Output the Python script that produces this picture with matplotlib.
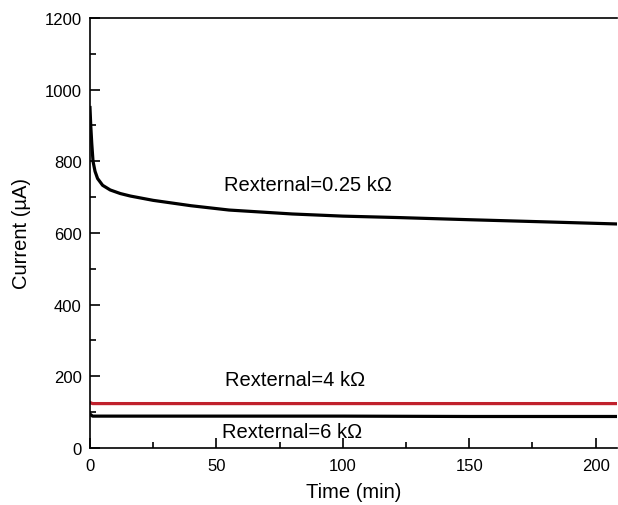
import numpy as np
import matplotlib.pyplot as plt
from matplotlib.ticker import MultipleLocator

plt.rcParams['font.family'] = ['Liberation Sans', 'DejaVu Sans']

# datos
t_025 = [0, 0.3, 0.7, 1.2, 2, 3, 5, 8, 12, 16, 25, 40, 55, 80, 100, 122, 150, 180, 209]
i_025 = [950, 900, 850, 800, 772, 752, 733, 720, 710, 703, 691, 676, 664, 653, 647, 643, 637, 631, 625]
t_4 = [0, 1, 50, 100, 150, 209]
i_4 = [127, 124, 124, 124, 124, 124]
t_6 = [0, 1, 50, 100, 150, 209]
i_6 = [95, 89, 89, 89, 88, 88]

fig = plt.figure(figsize=(6.18, 5.06), dpi=100)
ax = fig.add_axes([0.1456, 0.1126, 0.853, 0.85])

ax.plot(t_025, i_025, c='black', lw=2.3)
ax.plot(t_4, i_4, c='#c0202c', lw=2.3)
ax.plot(t_6, i_6, c='black', lw=2.3)

ax.text(53, 734, 'Rexternal=0.25 k\u03a9', fontsize=14.5, va='center')
ax.text(53.6, 190, 'Rexternal=4 k\u03a9', fontsize=14.5, va='center')
ax.text(52.3, 45, 'Rexternal=6 k\u03a9', fontsize=14.5, va='center')

ax.set_xlim(0, 208.5)
ax.set_ylim(0, 1200)
ax.xaxis.set_major_locator(MultipleLocator(50))
ax.xaxis.set_minor_locator(MultipleLocator(25))
ax.yaxis.set_major_locator(MultipleLocator(200))
ax.yaxis.set_minor_locator(MultipleLocator(100))
ax.tick_params(which='both', direction='in', labelsize=12, width=1.2)
ax.tick_params(which='major', length=7)
ax.tick_params(which='minor', length=4)
ax.tick_params(axis='x', pad=7)
ax.tick_params(axis='y', pad=6)
for s in ax.spines.values():
    s.set_linewidth(1.2)
ax.spines['right'].set_visible(False)
ax.set_xlabel('Time (min)', fontsize=14.5, labelpad=7)
ax.set_ylabel('Current (\u00b5A)', fontsize=14.5, labelpad=10)

plt.savefig('out.png', dpi=100)
